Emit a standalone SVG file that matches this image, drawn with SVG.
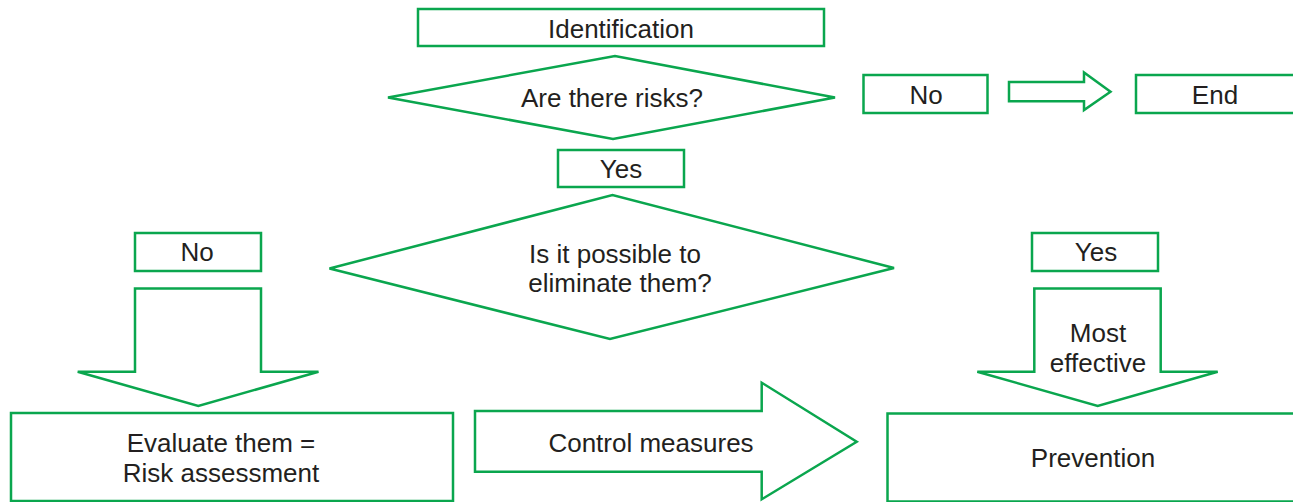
<svg xmlns="http://www.w3.org/2000/svg" width="1293" height="502" viewBox="0 0 1293 502">
<style>
.s{fill:#fff;stroke:#0aa64e;stroke-width:2.5;stroke-linejoin:miter}
.t{font-family:"Liberation Sans",Arial,sans-serif;font-size:26px;fill:#231f20;text-anchor:middle}
</style>
<rect width="1293" height="502" fill="#fff"/>
<g id="identification"><rect class="s" x="418" y="9" width="406" height="37"/><text class="t" x="621" y="37.5">Identification</text></g>
<g id="are-there-risks"><polygon class="s" points="388,97.5 615,56 835,97.5 613,139"/><text class="t" x="612" y="107">Are there risks?</text></g>
<g id="no-top"><rect class="s" x="863.5" y="75" width="124" height="38"/><text class="t" x="926" y="104">No</text></g>
<g id="end"><rect class="s" x="1136" y="75" width="160" height="38"/><text class="t" x="1215" y="104">End</text></g>
<g id="yes-top"><rect class="s" x="558" y="150" width="126" height="37"/><text class="t" x="621" y="177.5">Yes</text></g>
<g id="eliminate"><polygon class="s" points="329.5,268.5 612.5,195 894,268 610,339"/><text class="t" x="615" y="262.5">Is it possible to</text><text class="t" x="620" y="291.5">eliminate them?</text></g>
<g id="no-left"><rect class="s" x="135" y="233" width="126" height="38"/><text class="t" x="197" y="260.5">No</text></g>
<g id="yes-right"><rect class="s" x="1032" y="233" width="126" height="38"/><text class="t" x="1096" y="260.5">Yes</text></g>
<g id="evaluate"><rect class="s" x="11" y="413" width="442" height="88"/><text class="t" x="221" y="451.5">Evaluate them =</text><text class="t" x="221" y="481.5">Risk assessment</text></g>
<g id="prevention"><rect class="s" x="887.5" y="413.5" width="410" height="88"/><text class="t" x="1093" y="466.5">Prevention</text></g>
<g id="connectors">
<polygon class="s" points="1009,82 1084,82 1084,72.5 1110.5,91.7 1084,110 1084,101.3 1009,101.3"/>
<polygon class="s" points="135,288.5 261,288.5 261,371.7 318.5,371.7 198.3,406 77.7,371.7 135,371.7"/>
<polygon class="s" points="1034.3,288.5 1160.7,288.5 1160.7,371.7 1217.7,371.7 1097.7,406 977.3,371.7 1034.3,371.7"/>
<polygon class="s" points="475,411 761.7,411 761.7,382.7 856.7,441.7 761.7,499.3 761.7,471.7 475,471.7"/>
<text class="t" x="651" y="452">Control measures</text>
<text class="t" x="1098" y="341.5">Most</text>
<text class="t" x="1098" y="371.5">effective</text>
</g>
</svg>
